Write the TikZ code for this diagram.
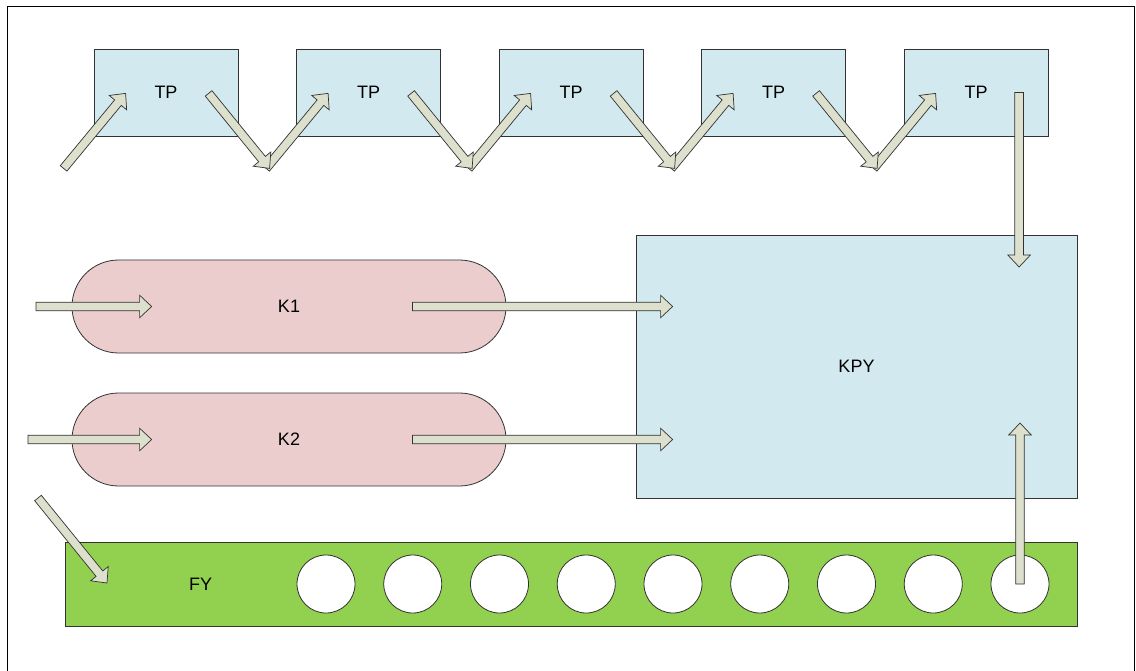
\documentclass[tikz,border=0pt]{standalone}
\usepackage{fontspec}
\setmainfont{Liberation Sans}
\usetikzlibrary{calc}
\definecolor{boxblue}{RGB}{210,233,239}
\definecolor{pillpink}{RGB}{235,205,205}
\definecolor{bargreen}{RGB}{146,208,80}
\definecolor{arrowfill}{RGB}{221,224,204}
\definecolor{edgegray}{RGB}{50,50,50}
\tikzset{
    every node/.style={font=\fontsize{18}{20}\selectfont},
    tpbox/.style={draw=edgegray, line width=0.8pt, fill=boxblue, minimum width=144pt, minimum height=87pt},
    kpybox/.style={draw=edgegray, line width=0.8pt, fill=boxblue, minimum width=441pt, minimum height=263pt},
    pill/.style={draw=edgegray, line width=0.8pt, fill=pillpink, rounded corners=46.5pt, minimum width=434pt, minimum height=93pt},
    fybar/.style={draw=edgegray, line width=0.8pt, fill=bargreen, minimum width=1012pt, minimum height=84pt},
    hole/.style={draw=edgegray, line width=0.8pt, fill=white, circle, minimum size=58pt, inner sep=0pt},
    blockarrow/.style={draw=edgegray, line width=0.7pt, fill=arrowfill, line join=miter}
}
\newcommand\fatarrow[2]{%
    \coordinate (neck) at ($(#2)!12pt!(#1)$);
    \draw[blockarrow] ($(#1)!4.3pt!90:(#2)$) -- ($(neck)!4.3pt!90:(#2)$) -- ($(neck)!11.3pt!90:(#2)$)
        -- (#2) -- ($(neck)!11.3pt!-90:(#2)$) -- ($(neck)!4.3pt!-90:(#2)$) -- ($(#1)!4.3pt!-90:(#2)$) -- cycle;}
\begin{document}
\begin{tikzpicture}[x=1pt, y=-1pt]
    \useasboundingbox (0,0) rectangle (1136,671);
    \draw[line width=0.9pt] (7,671) -- (7,6) -- (1134,6) -- (1134,671);
    \foreach \i in {1,...,5}
        \node[tpbox] (tp\i) at ({166+(\i-1)*202.5},92.5) {TP};
    \node[kpybox] (kpy) at (856.5,366.5) {KPY};
    \node[pill] (k1) at (289,306.5) {K1};
    \node[pill] (k2) at (289,439.5) {K2};
    \node[fybar] (fy) at (571,584) {};
    \node (fylbl) at ($(fy.west)+(136,0)$) {FY};
    \foreach \i in {1,...,9}
        \node[hole] (c\i) at ({326+(\i-1)*86.75},584) {};
    \foreach \i in {1,...,5} {
        \coordinate (uptail\i) at ($(tp\i.south west)+(-30,32)$);
        \coordinate (uptip\i) at ($(tp\i.south west)+(32,-43)$);
        \fatarrow{uptail\i}{uptip\i}
    }
    \foreach \i in {1,...,4} {
        \coordinate (dntail\i) at ($(tp\i.south west)+(115,-43)$);
        \coordinate (dntip\i) at ($(tp\i.south west)+(176,32)$);
        \fatarrow{dntail\i}{dntip\i}
    }
    \coordinate (tp5out) at ($(tp5.north west)+(115.5,44)$);
    \coordinate (kpyin) at (tp5out |- 0,267);
    \fatarrow{tp5out}{kpyin}
    \coordinate (k1in) at (36,306.5);
    \coordinate (k1mid) at ($(k1.west)+(80,0)$);
    \coordinate (k1out) at ($(k1.east)+(-94,0)$);
    \coordinate (kpyk1) at (kpy.west |- k1out);
    \fatarrow{k1in}{k1mid}
    \fatarrow{k1out}{$(kpyk1)+(37,0)$}
    \coordinate (k2in) at (28,439.5);
    \coordinate (k2mid) at ($(k2.west)+(80,0)$);
    \coordinate (k2out) at ($(k2.east)+(-94,0)$);
    \coordinate (kpyk2) at (kpy.west |- k2out);
    \fatarrow{k2in}{k2mid}
    \fatarrow{k2out}{$(kpyk2)+(37,0)$}
    \coordinate (fyin) at (38,498);
    \coordinate (fytip) at (107,583);
    \fatarrow{fyin}{fytip}
    \coordinate (kpyup) at (c9 |- 0,423);
    \fatarrow{c9.center}{kpyup}
\end{tikzpicture}
\end{document}
